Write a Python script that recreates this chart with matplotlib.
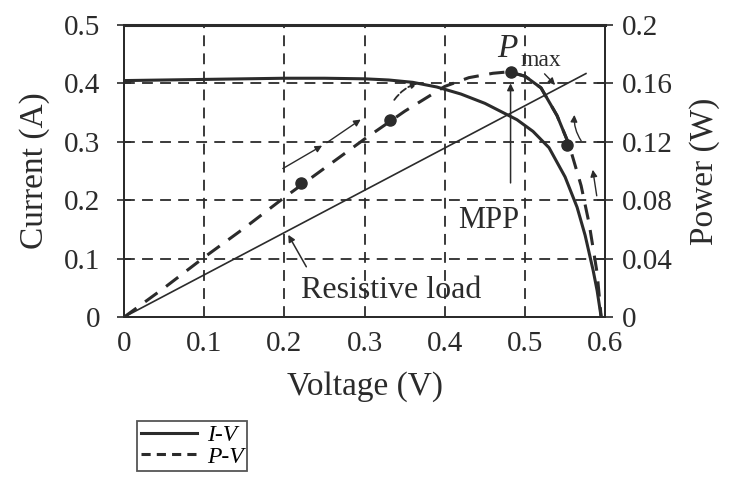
import matplotlib
matplotlib.use("Agg")
import matplotlib.pyplot as plt
from matplotlib.lines import Line2D

plt.rcParams['font.family'] = ['Liberation Serif', 'DejaVu Serif']

# Curva I-V (corriente en A)
v_iv = [0, 0.05, 0.1, 0.15, 0.2, 0.25, 0.3, 0.33, 0.36, 0.39, 0.42, 0.45,
        0.47, 0.49, 0.51, 0.53, 0.55, 0.565, 0.575, 0.585, 0.59, 0.595]
i_iv = [0.405, 0.406, 0.407, 0.408, 0.409, 0.409, 0.408, 0.406, 0.402, 0.394,
        0.382, 0.366, 0.352, 0.338, 0.318, 0.29, 0.24, 0.188, 0.14, 0.08,
        0.045, 0.0]

# Curva P-V (potencia en W)
v_pv = [0, 0.05, 0.1, 0.15, 0.2, 0.25, 0.3, 0.35, 0.4, 0.43, 0.46, 0.48,
        0.5, 0.52, 0.54, 0.555, 0.57, 0.58, 0.59, 0.595]
p_pv = [0, 0.020, 0.041, 0.061, 0.082, 0.102, 0.122, 0.141, 0.158, 0.164,
        0.167, 0.168, 0.165, 0.157, 0.138, 0.118, 0.090, 0.064, 0.030, 0.0]

# Puntos marcados sobre la curva P-V
v_dots = [0.221, 0.332, 0.482, 0.553]
p_dots = [0.092, 0.135, 0.168, 0.118]

# Recta de carga resistiva
v_load = [0, 0.576]
i_load = [0, 0.417]

x_ticks = [0, 0.1, 0.2, 0.3, 0.4, 0.5, 0.6]
x_labels = ["0", "0.1", "0.2", "0.3", "0.4", "0.5", "0.6"]
i_ticks = [0, 0.1, 0.2, 0.3, 0.4, 0.5]
i_labels = ["0", "0.1", "0.2", "0.3", "0.4", "0.5"]
p_ticks = [0, 0.04, 0.08, 0.12, 0.16, 0.2]
p_labels = ["0", "0.04", "0.08", "0.12", "0.16", "0.2"]

ink = "#2b2b2b"
fs = 21
fl = 24

fig = plt.figure(figsize=(7.3, 4.97), dpi=100)
ax = fig.add_axes([0.170, 0.362, 0.659, 0.5875])
ax2 = ax.twinx()

ax.set_xlim(0, 0.6)
ax.set_ylim(0, 0.5)
ax2.set_ylim(0, 0.2)

# Rejilla discontinua
for x in x_ticks[1:-1]:
    ax.axvline(x, color=ink, lw=1.3, ls=(0, (6, 4)), zorder=1)
for y in i_ticks[1:-1]:
    ax.axhline(y, color=ink, lw=1.3, ls=(0, (6, 4)), zorder=1)

ax.plot(v_iv, i_iv, color=ink, lw=2.2, zorder=3)
ax.plot(v_load, i_load, color=ink, lw=1.2, zorder=3)
ax2.plot(v_pv, p_pv, color=ink, lw=2.2, ls=(0, (5, 3.5)), zorder=3)
# tramo de seguimiento entre Pmax y el punto de la derecha
ax2.plot(v_pv[11:16], p_pv[11:16], color=ink, lw=2.2, zorder=3)
ax2.plot(v_dots, p_dots, "o", color=ink, ms=8, zorder=4)

ax.set_xticks(x_ticks)
ax.set_xticklabels(x_labels)
ax.set_yticks(i_ticks)
ax.set_yticklabels(i_labels)
ax2.set_yticks(p_ticks)
ax2.set_yticklabels(p_labels)
ax.tick_params(axis="x", labelsize=fs, colors=ink, length=0, pad=10)
ax.tick_params(axis="y", labelsize=fs, colors=ink, length=10,
               direction="inout", width=1.2, pad=12)
ax2.tick_params(labelsize=fs, colors=ink, length=12, direction="inout",
                width=1.2, pad=6)

for a in (ax, ax2):
    for s in a.spines.values():
        s.set_color(ink)
        s.set_linewidth(1.4)
ax.spines["top"].set_linewidth(2.2)

ax.set_xlabel("Voltage (V)", fontsize=fl, color=ink, labelpad=10)
ax.set_ylabel("Current (A)", fontsize=fl, color=ink, labelpad=10)
ax2.set_ylabel("Power (W)", fontsize=fl, color=ink, labelpad=12)

# Anotaciones
ax.text(0.455, 0.165, "MPP", fontsize=fs + 1, color=ink, ha="center", va="center")
ax.annotate("", xy=(0.482, 0.405), xytext=(0.482, 0.225),
            arrowprops=dict(arrowstyle="-|>", color=ink, lw=1.1))
ax.text(0.465, 0.46, "P", fontsize=fl, style="italic", color=ink,
        ha="left", va="center")
ax.text(0.494, 0.44, "max", fontsize=fs - 4, color=ink, ha="left", va="center")
ax.text(0.333, 0.046, "Resistive load", fontsize=fs + 2, color=ink,
        ha="center", va="center")
ax.annotate("", xy=(0.203, 0.145), xytext=(0.229, 0.082),
            arrowprops=dict(arrowstyle="-|>", color=ink, lw=1.1))

# Flechas de seguimiento
ax.annotate("", xy=(0.25, 0.296), xytext=(0.195, 0.252),
            arrowprops=dict(arrowstyle="-|>", color=ink, lw=1.0))
ax.annotate("", xy=(0.298, 0.341), xytext=(0.25, 0.296),
            arrowprops=dict(arrowstyle="-|>", color=ink, lw=1.0))
ax.annotate("", xy=(0.37, 0.402), xytext=(0.335, 0.368),
            arrowprops=dict(arrowstyle="-|>", color=ink, lw=1.3, ls="--",
                            connectionstyle="arc3,rad=-0.2"))
ax.annotate("", xy=(0.54, 0.394), xytext=(0.522, 0.42),
            arrowprops=dict(arrowstyle="-|>", color=ink, lw=1.0))
ax.annotate("", xy=(0.562, 0.351), xytext=(0.572, 0.298),
            arrowprops=dict(arrowstyle="-|>", color=ink, lw=1.0,
                            connectionstyle="arc3,rad=-0.2"))
ax.annotate("", xy=(0.584, 0.257), xytext=(0.59, 0.203),
            arrowprops=dict(arrowstyle="-|>", color=ink, lw=1.0))

handles = [Line2D([], [], color=ink, lw=2.2),
           Line2D([], [], color=ink, lw=2.2, ls=(0, (3, 2)))]
leg = fig.legend(handles, ["I-V", "P-V"], loc="upper left",
                 bbox_to_anchor=(137 / 730, 1 - 421 / 497),
                 prop={"size": 17, "style": "italic"},
                 frameon=True, fancybox=False, handlelength=2.4,
                 handletextpad=0.4, borderpad=0.15, labelspacing=0.0,
                 borderaxespad=0)
leg.get_frame().set_edgecolor(ink)
leg.get_frame().set_linewidth(1.3)

fig.savefig("out.png", dpi=100)
